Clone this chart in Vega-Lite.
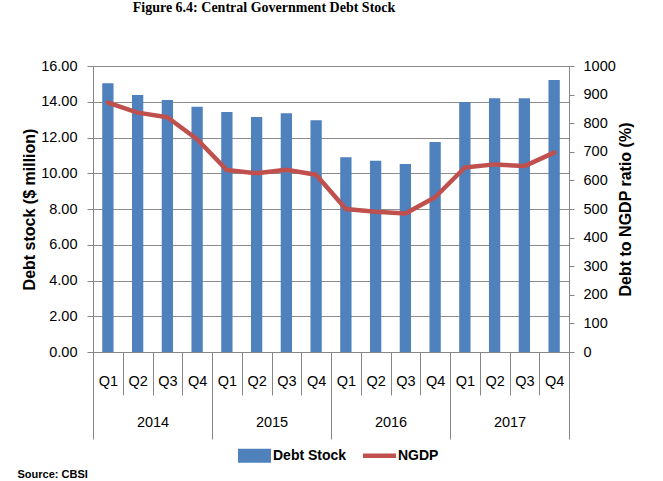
{
  "$schema": "https://vega.github.io/schema/vega-lite/v6.json",
  "autosize": {"type": "none"},
  "width": 476,
  "height": 286,
  "padding": {"left": 93, "top": 66, "right": 94, "bottom": 129},
  "background": "white",
  "title": {
    "text": "Figure 6.4: Central Government Debt Stock",
    "font": "Liberation Serif",
    "fontSize": 14,
    "fontWeight": "bold",
    "color": "black",
    "anchor": "middle",
    "frame": "group",
    "dx": -67,
    "dy": 23,
    "baseline": "alphabetic",
    "offset": 55
  },
  "data": {
    "values": [
      {"year": "2014", "period": "2014 Q1", "debt": 15.03, "ngdp": 872},
      {"year": "2014", "period": "2014 Q2", "debt": 14.38, "ngdp": 837},
      {"year": "2014", "period": "2014 Q3", "debt": 14.10, "ngdp": 821},
      {"year": "2014", "period": "2014 Q4", "debt": 13.72, "ngdp": 744},
      {"year": "2015", "period": "2015 Q1", "debt": 13.43, "ngdp": 636},
      {"year": "2015", "period": "2015 Q2", "debt": 13.15, "ngdp": 625},
      {"year": "2015", "period": "2015 Q3", "debt": 13.35, "ngdp": 637},
      {"year": "2015", "period": "2015 Q4", "debt": 12.96, "ngdp": 620},
      {"year": "2016", "period": "2016 Q1", "debt": 10.89, "ngdp": 500},
      {"year": "2016", "period": "2016 Q2", "debt": 10.70, "ngdp": 490},
      {"year": "2016", "period": "2016 Q3", "debt": 10.52, "ngdp": 484},
      {"year": "2016", "period": "2016 Q4", "debt": 11.75, "ngdp": 541},
      {"year": "2017", "period": "2017 Q1", "debt": 13.99, "ngdp": 645},
      {"year": "2017", "period": "2017 Q2", "debt": 14.19, "ngdp": 656},
      {"year": "2017", "period": "2017 Q3", "debt": 14.19, "ngdp": 650},
      {"year": "2017", "period": "2017 Q4", "debt": 15.22, "ngdp": 697}
    ]
  },
  "config": {
    "view": {"stroke": null},
    "axis": {
      "labelFont": "Liberation Sans",
      "labelFontSize": 14.5,
      "labelColor": "black",
      "titleFont": "Liberation Sans",
      "titleFontSize": 16,
      "titleFontWeight": "bold",
      "titleColor": "black",
      "domainColor": "#868686",
      "tickColor": "#868686"
    }
  },
  "layer": [
    {
      "layer": [
        {
          "mark": {"type": "bar", "width": {"band": 0.38}},
          "encoding": {
            "x": {
              "field": "period",
              "type": "ordinal",
              "sort": null,
              "scale": {"type": "band", "paddingInner": 0, "paddingOuter": 0},
              "axis": {
                "orient": "bottom",
                "title": null,
                "labelExpr": "slice(datum.label, 5)",
                "labelAngle": 0,
                "tickBand": "extent",
                "tickSize": 43,
                "labelPadding": -21,
                "grid": false
              }
            },
            "y": {
              "field": "debt",
              "type": "quantitative",
              "scale": {"domain": [0, 16]},
              "axis": {
                "orient": "left",
                "title": "Debt stock ($ million)",
                "values": [0, 2, 4, 6, 8, 10, 12, 14, 16],
                "format": ".2f",
                "grid": true,
                "gridColor": "#8c8c8c",
                "tickSize": 6,
                "labelPadding": 10,
                "titlePadding": 3
              }
            },
            "color": {
              "datum": "Debt Stock",
              "type": "nominal",
              "scale": {"domain": ["Debt Stock", "NGDP"], "range": ["#4F81BD", "#C0504D"]},
              "legend": {
                "orient": "none",
                "legendX": 145,
                "legendY": 373,
                "direction": "horizontal",
                "columns": 2,
                "title": null,
                "padding": 0,
                "labelFont": "Liberation Sans",
                "labelFontSize": 14,
                "labelFontWeight": "bold",
                "labelColor": "black",
                "labelOffset": 2,
                "columnPadding": 16,
                "symbolSize": 1089,
                "symbolStrokeWidth": 0,
                "encode": {
                  "symbols": {
                    "update": {
                      "shape": {"signal": "datum.value === 'NGDP' ? 'M-1,-0.14H1V0.14H-1Z' : 'M-1,-0.42H1V0.42H-1Z'"},
                      "fill": {"signal": "datum.value === 'NGDP' ? '#C0504D' : '#4F81BD'"},
                      "stroke": {"value": "transparent"},
                      "strokeWidth": {"value": 0},
                      "opacity": {"value": 1}
                    }
                  }
                }
              }
            }
          }
        },
        {
          "mark": {"type": "line", "strokeWidth": 4.5, "strokeJoin": "round", "strokeCap": "round"},
          "encoding": {
            "x": {"field": "period", "type": "ordinal", "sort": null},
            "y": {
              "field": "ngdp",
              "type": "quantitative",
              "scale": {"domain": [0, 1000]},
              "axis": {
                "orient": "right",
                "title": "Debt to NGDP ratio (%)",
                "titleAngle": 270,
                "values": [0, 100, 200, 300, 400, 500, 600, 700, 800, 900, 1000],
                "format": "d",
                "grid": false,
                "tickSize": 5,
                "labelPadding": 9,
                "titlePadding": 18
              }
            },
            "color": {"datum": "NGDP", "type": "nominal"}
          }
        }
      ],
      "resolve": {"scale": {"y": "independent"}}
    },
    {
      "mark": {"type": "tick", "opacity": 0},
      "encoding": {
        "x": {
          "field": "year",
          "type": "ordinal",
          "scale": {"type": "band", "paddingInner": 0, "paddingOuter": 0},
          "axis": {
            "orient": "bottom",
            "offset": 43,
            "tickSize": 44,
            "tickBand": "extent",
            "domain": false,
            "labelAngle": 0,
            "labelPadding": -24,
            "grid": false,
            "title": "Source: CBSI",
            "titleFontSize": 11,
            "titleAlign": "left",
            "titleBaseline": "alphabetic",
            "titleX": -76,
            "titleY": 82
          }
        }
      }
    }
  ],
  "resolve": {"scale": {"x": "independent"}}
}
